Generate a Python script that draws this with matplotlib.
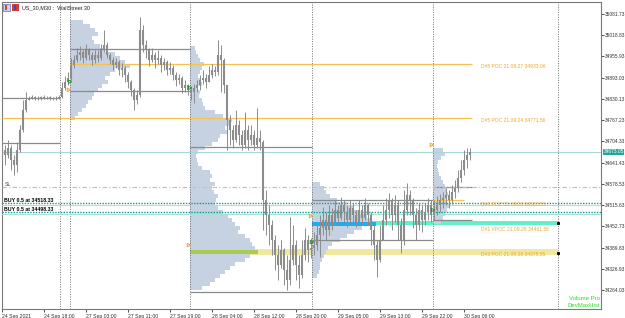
import matplotlib
matplotlib.use('Agg')
import matplotlib.pyplot as plt
import numpy as np
from matplotlib.patches import Rectangle
import matplotlib.transforms as mtrans

plt.rcParams['font.family'] = ['Liberation Sans', 'DejaVu Sans']

# ---------------- data ----------------
close = [34679,34664,34685,34649,34634,34679,34738,34798,34827,34833,
         34836,34831,34834,34833,34836,34835,34833,34831,34834,34835,
         34863,34881,34893,34931,34946,34961,34970,34952,34976,34961,
         34946,34961,34952,34976,34990,34961,34946,34931,34940,34917,
         34922,34901,34881,34857,34827,34842,35035,34990,34976,34946,
         34961,34946,34952,34931,34940,34917,34922,34901,34887,34893,
         34863,34872,34857,34851,34863,34872,34887,34893,34881,34901,
         34917,34910,34961,34946,34872,34768,34738,34709,34753,34723,
         34694,34738,34709,34723,34694,34715,34703,34531,34486,34456,
         34412,34367,34338,34382,34323,34293,34353,34397,34338,34308,
         34367,34412,34382,34388,34397,34427,34448,34471,34442,34486,
         34465,34501,34477,34516,34495,34471,34507,34486,34465,34501,
         34477,34516,34486,34442,34397,34353,34412,34471,34501,34531,
         34486,34516,34456,34412,34501,34545,34531,34486,34456,34501,
         34471,34495,34516,34486,34501,34516,34531,34537,34545,34531,
         34554,34566,34596,34620,34649,34664,34673]
high = [34709,34694,34709,34694,34664,34703,34753,34827,34851,34840,
        34842,34838,34840,34839,34841,34840,34838,34837,34840,34841,
        34881,34899,34910,34952,34961,34982,34988,34976,34994,34982,
        34970,34976,34976,34994,35035,35000,34967,34955,34952,34946,
        34937,34928,34910,34887,34863,34857,35074,35050,35006,34982,
        34982,34970,34976,34961,34952,34946,34940,34931,34910,34904,
        34899,34887,34875,34869,34875,34887,34901,34917,34904,34928,
        34934,34928,35006,34990,34952,34872,34783,34753,34798,34768,
        34738,34792,34753,34753,34738,34804,34738,34709,34561,34516,
        34471,34427,34397,34412,34388,34367,34480,34456,34412,34367,
        34412,34448,34427,34418,34436,34465,34486,34510,34495,34516,
        34507,34531,34516,34540,34531,34516,34531,34522,34501,34531,
        34516,34537,34522,34495,34456,34412,34456,34516,34537,34552,
        34537,34545,34531,34477,34561,34581,34561,34537,34507,34522,
        34516,34522,34537,34531,34531,34543,34549,34554,34566,34561,
        34575,34590,34620,34649,34679,34685,34685]
low = [34649,34634,34655,34620,34605,34614,34673,34732,34792,34826,
       34829,34826,34828,34827,34829,34829,34827,34826,34828,34829,
       34833,34857,34872,34887,34922,34940,34946,34937,34946,34946,
       34931,34937,34940,34946,34970,34952,34934,34917,34922,34901,
       34896,34881,34863,34839,34798,34815,34836,34970,34952,34928,
       34940,34922,34934,34910,34917,34901,34904,34887,34869,34875,
       34848,34851,34842,34827,34818,34851,34857,34875,34863,34881,
       34893,34899,34901,34851,34848,34679,34694,34685,34703,34694,
       34679,34685,34679,34694,34679,34685,34679,34442,34427,34397,
       34367,34323,34293,34329,34278,34264,34278,34338,34293,34270,
       34299,34353,34347,34359,34367,34382,34362,34427,34412,34427,
       34442,34456,34456,34471,34465,34450,34459,34465,34450,34456,
       34459,34471,34456,34397,34353,34302,34347,34412,34456,34477,
       34442,34465,34412,34374,34397,34486,34486,34448,34412,34442,
       34436,34456,34471,34465,34471,34486,34495,34507,34516,34507,
       34519,34537,34554,34584,34605,34626,34649]
first_open = 34690

# volume profiles: (start bar, top price level, volumes per bin from top)
profile_bin = 11.85
p1_start, p1_top = 22.7, 35058
p1_vol = [13,20,25,28,22,24,30,35,45,50,55,60,45,40,35,38,32,28,24,22,18,16,12,8,5]
p2_start, p2_top = 62.7, 34981
p2_vol = [5,6,8,10,14,12,10,8,10,12,8,10,9,12,13,15,25,33,42,40,
          35,38,30,28,22,15,8,6,7,8,12,20,22,20,25,22,24,28,26,25,
          28,33,38,42,45,50,48,55,60,62,65,68,60,55,45,40,35,30,25,20,12]
p3_start, p3_top = 103.3, 34578
p3_vol = [8,12,14,18,25,35,42,48,55,58,64,50,42,35,28,20,16,14,12,10,8,8,7,5]
p4_start, p4_top = 143.7, 34679
p4_vol = [10,12,8,5,4,5,6,8,10,12,14,15,13,14,16,14,12,10,8]
session_lines = [19.3, 22.7, 62.7, 103.3, 143.7, 185.3]

# value-area boxes (x0, x1, upper, lower)
va_boxes = [(0, 19.3, 34833, 34700), (22.7, 62.7, 34978, 34854),
            (62.7, 103.3, 34688, 34258), (103.3, 143.7, 34531, 34412),
            (143.7, 156.7, 34569, 34471)]

ytick_vals = [34264.03, 34326.93, 34389.83, 34452.73, 34515.63, 34578.53, 34641.43,
              34704.33, 34767.23, 34830.13, 34893.03, 34955.93, 35018.83, 35081.73]
xtick_pos = [0, 14, 28, 42, 56, 70, 84, 98, 112, 126, 140, 154]
xtick_lab = ["24 Sep 2021", "24 Sep 18:00", "27 Sep 03:00", "27 Sep 11:00", "27 Sep 19:00",
             "28 Sep 04:00", "28 Sep 12:00", "28 Sep 20:00", "29 Sep 05:00", "29 Sep 13:00",
             "29 Sep 22:00", "30 Sep 06:00"]
current_price = 34673.05
buy_levels = [34522, 34495]
buy_labels = ["BUY 0.5 at 34518.33", "BUY 0.5 at 34498.33"]
sl_level = 34569
poc_lines = [(22.7, 34934, "D#5 POC 21.09.27 34933.06"), (0, 34774, "D#5 POC 21.09.24 34771.56")]

# ---------------- figure ----------------
W, H = 625, 318
fig = plt.figure(figsize=(W/100, H/100), dpi=100)
fig.patch.set_facecolor('white')
ax = fig.add_axes([2/W, (H-309)/H, 599/W, 307/H])
ax.set_xlim(0, 199.67)
ax.set_ylim(34207.7, 35117.3)

prof_col = '#c6d2e2'

def draw_profile(start, top, vol, poc_color=None, poc_idx=None):
    vol = np.array(vol, float)
    levels = top - profile_bin*np.arange(len(vol))
    ax.barh(levels, vol/3.0, height=profile_bin, left=start, color=prof_col,
            edgecolor='none', zorder=2)
    if poc_color is not None:
        ax.barh([levels[poc_idx]], [vol[poc_idx]/3.0], height=profile_bin*1.2, left=start,
                color=poc_color, edgecolor='none', zorder=2.5)

# bands (yellow POC band and cyan VPOC band)
ax.add_patch(Rectangle((62.7, 34368), 185.3-62.7, 16, color='#efe89e', zorder=1.5, lw=0))
ax.add_patch(Rectangle((103.3, 34456), 185.3-103.3, 12, color='#62f0c8', zorder=1.5, lw=0))

draw_profile(p1_start, p1_top, p1_vol)
draw_profile(p2_start, p2_top, p2_vol, '#a9cc55', 51)
draw_profile(p3_start, p3_top, p3_vol, '#1eacf0', 10)
draw_profile(p4_start, p4_top, p4_vol)

# session separators
for xs in session_lines:
    ax.axvline(xs, color='#707070', lw=0.7, ls=(0, (1, 1.5)), zorder=3)

# value area boxes
for x0, x1, up, lo in va_boxes:
    ax.hlines([up, lo], x0, x1, color='#8a8a8a', lw=0.9, zorder=3)

# POC lines
lab_kw = dict(fontsize=3.6, color='#f0a830', va='center', ha='left', zorder=6)
for x0, lvl, lab in poc_lines:
    ax.hlines(lvl, x0, 156.7, color='#f7c14e', lw=0.9, zorder=3)
    ax.text(159.6, lvl - 8, lab, **lab_kw)
ax.hlines(34531, 143.7, 154, color='#f7c14e', lw=0.9, zorder=3)
ax.text(159.6, 34516, "D#0 POC 21.09.30 34530.55", **lab_kw)
ax.text(159.6, 34443, "D#1 VPOC 21.09.29 34461.56", **lab_kw)
ax.text(159.6, 34370, "D#3 POC 21.09.28 34375.55", **lab_kw)
ax.plot([185.3, 185.3], [34375, 34462], ls='none', marker='s', ms=1.2, color='black', zorder=6)

# order lines
for lvl, lab in zip(buy_levels, buy_labels):
    ax.axhline(lvl, color='#129a8c', lw=1.0, ls=(0, (1, 1)), zorder=4)
    ax.axhline(lvl - 6, color='#a6e2d8', lw=0.7, zorder=3.5)
    ax.text(0.8, lvl + 8, lab, fontsize=3.8, color='black', fontweight='bold', va='center', zorder=6)
ax.axhline(sl_level, color='#f2a8a8', lw=0.8, ls=(0, (4, 2, 1, 2)), zorder=3.5)
ax.text(0.8, sl_level + 9, "SL", fontsize=3.8, color='#555555', va='center', zorder=6)
ax.axhline(current_price, color='#a9d6d8', lw=0.8, zorder=3.5)

# candles
opens = [first_open] + close[:-1]
xs = np.arange(len(close))
ax.vlines(xs, low, high, color='#8c8c8c', lw=0.7, zorder=5)
body_lo = np.minimum(opens, close)
body_hi = np.maximum(np.maximum(opens, close), body_lo + 2)
ax.vlines(xs, body_lo, body_hi, color='#8c8c8c', lw=1.5, zorder=5)

# markers
ax.scatter([22.7, 62.7, 103.3, 143.7], [34881, 34863, 34406, 34501], marker='>', s=6,
           facecolor='none', edgecolor='#2e8b2e', lw=0.7, zorder=6)
ax.scatter([22.3, 62.3, 103.0, 143.3], [34857, 34397, 34483, 34694], marker='>', s=6,
           facecolor='none', edgecolor='#f0a040', lw=0.7, zorder=6)

# axes styling
for s in ax.spines.values():
    s.set_color('#7a7a7a')
    s.set_linewidth(0.8)
ax.yaxis.tick_right()
ax.set_yticks(ytick_vals)
ax.set_yticklabels([f"{v:.2f}" for v in ytick_vals])
ax.tick_params(axis='y', length=2, width=0.6, pad=0.8, labelsize=3.5, colors='#333333')
ax.set_xticks(xtick_pos)
ax.set_xticklabels(xtick_lab)
for t in ax.get_xticklabels():
    t.set_ha('left')
ax.tick_params(axis='x', length=2, width=0.6, pad=1.5, labelsize=3.7, colors='#333333')

# current price tag
trans = mtrans.blended_transform_factory(ax.transAxes, ax.transData)
ax.text(1.004, current_price, f"{current_price:.2f}", transform=trans, fontsize=3.5,
        color='white', va='center', ha='left',
        bbox=dict(boxstyle='square,pad=0.12', fc='#26a69a', ec='none'), clip_on=False, zorder=10)

# title and icons
fig.patches.append(Rectangle((3/W, 1-11/H), 7/W, 7/H, transform=fig.transFigure, fc='#c9d4ef', ec='#5b6fb5', lw=0.5))
fig.patches.append(Rectangle((5/W, 1-10/H), 1.5/W, 5/H, transform=fig.transFigure, fc='#e04040', ec='none'))
fig.patches.append(Rectangle((12/W, 1-11/H), 7/W, 7/H, transform=fig.transFigure, fc='#d63a3a', ec='none'))
fig.patches.append(Rectangle((14/W, 1-10/H), 2/W, 5/H, transform=fig.transFigure, fc='#3050c0', ec='none'))
fig.text(22/W, 1-7.5/H, "US_30,M30 :  WallStreet 30", fontsize=4.0, color='#222222', va='center')

# indicator text bottom-right
ax.text(0.998, 0.035, "Volume Pro", transform=ax.transAxes, fontsize=4.3, color='#22dd22',
        ha='right', va='center', zorder=10)
ax.text(0.998, 0.012, "DevMaxHist", transform=ax.transAxes, fontsize=4.3, color='#22dd22',
        ha='right', va='center', zorder=10)

fig.savefig('out.png', dpi=100, facecolor='white')
